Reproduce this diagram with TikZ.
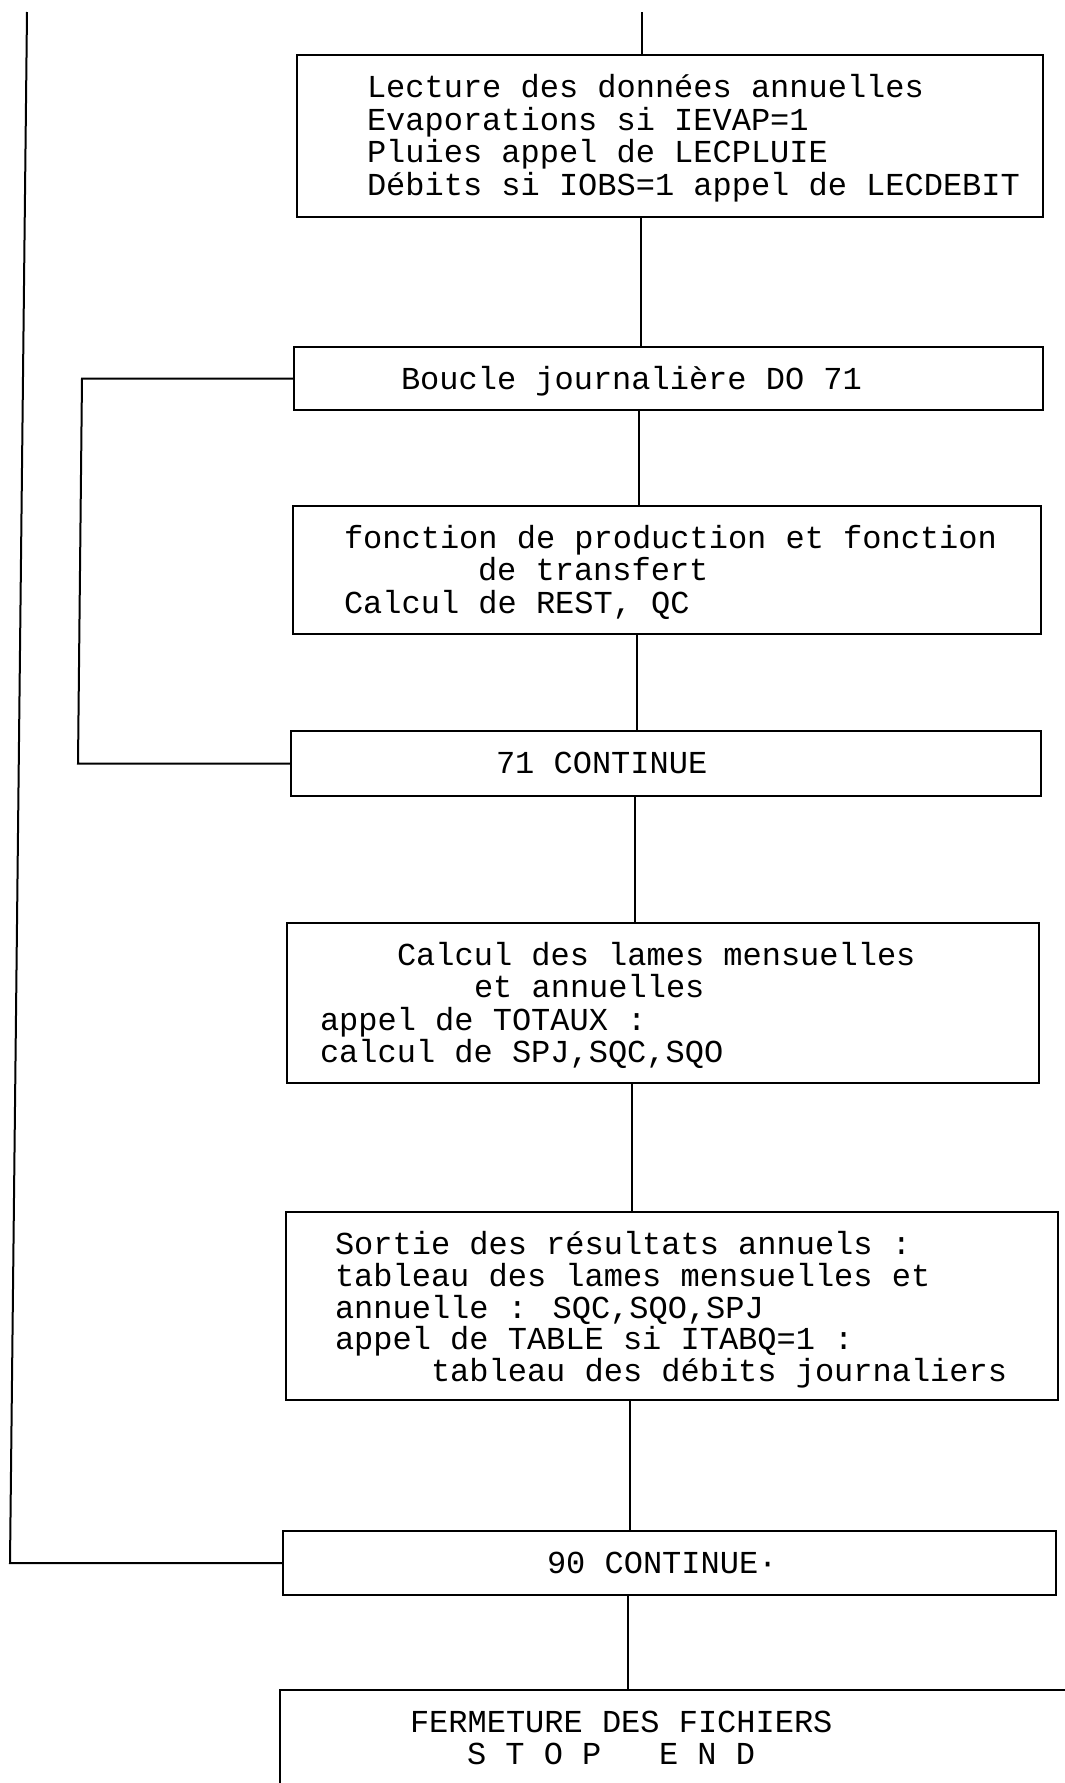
\documentclass[tikz,border=0pt]{standalone}
\usepackage{fontspec}
\setmainfont{Liberation Mono}
\begin{document}
\begin{tikzpicture}[x=1pt,y=-1pt,
  box/.style={draw, line width=2.2pt, inner sep=0pt, outer sep=0pt, anchor=north west},
  txt/.style={anchor=base west, inner sep=0pt, outer sep=0pt, font=\fontsize{32}{32}\selectfont},
  link/.style={line width=1.3pt},
  loopline/.style={line width=2pt}]
\useasboundingbox (0,0) rectangle (1065,1783);
\clip (0,0) rectangle (1065,1783);
\fill[white] (0,0) rectangle (1065,1783);

% boxes
\node[box, minimum width=746pt, minimum height=162pt] (b1) at (297,55) {};
\node[box, minimum width=749pt, minimum height=63pt]  (b2) at (294,347) {};
\node[box, minimum width=748pt, minimum height=128pt] (b3) at (293,506) {};
\node[box, minimum width=750pt, minimum height=65pt]  (b4) at (291,731) {};
\node[box, minimum width=752pt, minimum height=160pt] (b5) at (287,923) {};
\node[box, minimum width=772pt, minimum height=188pt] (b6) at (286,1212) {};
\node[box, minimum width=773pt, minimum height=64pt]  (b7) at (283,1531) {};
\node[box, minimum width=800pt, minimum height=130pt] (b8) at (280,1690) {};

% texts
\node[txt] (t1a) at (367,97)  {Lecture des données annuelles};
\node[txt] (t1b) at (367,130) {Evaporations si IEVAP=1};
\node[txt] (t1c) at (367,162) {Pluies appel de LECPLUIE};
\node[txt] (t1d) at (367,195) {Débits si IOBS=1 appel de LECDEBIT};

\node[txt] (t2a) at (401,389) {Boucle journalière DO 71};

\node[txt] (t3a) at (344,548) {fonction de production et fonction};
\node[txt] (t3b) at (478,580) {de transfert};
\node[txt] (t3c) at (344,613) {Calcul de REST, QC};

\node[txt] (t4a) at (496,773) {71 CONTINUE};

\node[txt] (t5a) at (397,965)  {Calcul des lames mensuelles};
\node[txt] (t5b) at (474,997)  {et annuelles};
\node[txt] (t5c) at (320,1030) {appel de TOTAUX :};
\node[txt] (t5d) at (320,1062) {calcul de SPJ,SQC,SQO};

\node[txt] (t6a) at (335,1254) {Sortie des résultats annuels :};
\node[txt] (t6b) at (335,1286) {tableau des lames mensuelles et};
\node[txt] (t6c) at (335,1318) {annuelle : SQC,SQO,SPJ};
\node[txt] (t6d) at (335,1349) {appel de TABLE si ITABQ=1 :};
\node[txt] (t6e) at (431,1381) {tableau des débits journaliers};

\node[txt] (t7a) at (547,1573) {90 CONTINUE·};

\node[txt] (t8a) at (410,1732) {FERMETURE DES FICHIERS};
\node[txt] (t8b) at (467,1764) {S T O P\ \ \ E N D};

% connector guides
\coordinate (c0) at (642,12);
\coordinate (k1) at (641,0);
\coordinate (k2) at (639,0);
\coordinate (k3) at (637,0);
\coordinate (k4) at (635,0);
\coordinate (k5) at (632,0);
\coordinate (k6) at (630,0);
\coordinate (k7) at (628,0);
\coordinate (l1) at (82,0);
\coordinate (l2) at (78,0);
\coordinate (o1) at (27,12);
\coordinate (o2) at (10,0);

% central connectors
\draw[link] (c0) -- (b1.north -| c0);
\draw[link] (b1.south -| k1) -- (b2.north -| k1);
\draw[link] (b2.south -| k2) -- (b3.north -| k2);
\draw[link] (b3.south -| k3) -- (b4.north -| k3);
\draw[link] (b4.south -| k4) -- (b5.north -| k4);
\draw[link] (b5.south -| k5) -- (b6.north -| k5);
\draw[link] (b6.south -| k6) -- (b7.north -| k6);
\draw[link] (b7.south -| k7) -- (b8.north -| k7);

% loops
\draw[loopline] (b2.west) -- (b2.west -| l1) -- (b4.west -| l2) -- (b4.west);
\draw[loopline] (o1) -- (b7.west -| o2) -- (b7.west);
\end{tikzpicture}
\end{document}
